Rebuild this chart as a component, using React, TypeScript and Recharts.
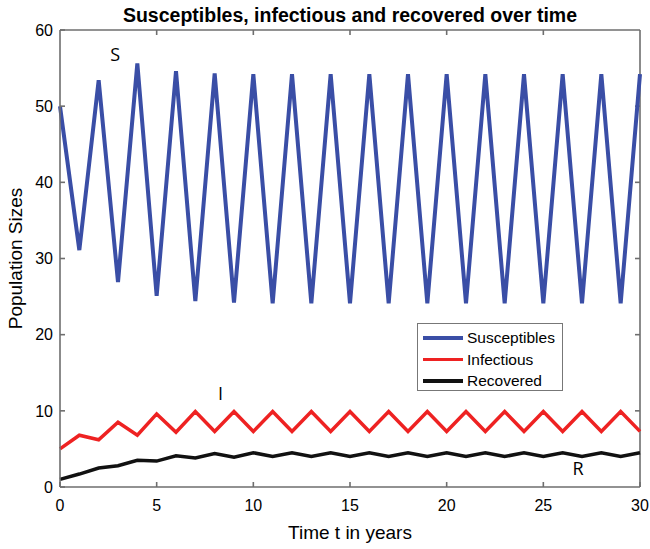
import React from 'react';
import { LineChart, Line, XAxis, YAxis, ReferenceDot, ReferenceLine } from 'recharts';

const years = Array.from({ length: 31 }, (_, i) => i);
const susceptibles = [50, 31.1, 53.4, 26.9, 55.6, 25.1, 54.6, 24.4, 54.3, 24.2, 54.2, 24.1, 54.2, 24.1, 54.2, 24.1, 54.2, 24.1, 54.2, 24.1, 54.2, 24.1, 54.2, 24.1, 54.2, 24.1, 54.2, 24.1, 54.2, 24.1, 54.2];
const infectious = [5.0, 6.8, 6.2, 8.5, 6.8, 9.6, 7.2, 9.9, 7.3, 9.9, 7.3, 9.9, 7.3, 9.9, 7.3, 9.9, 7.3, 9.9, 7.3, 9.9, 7.3, 9.9, 7.3, 9.9, 7.3, 9.9, 7.3, 9.9, 7.3, 9.9, 7.3];
const recovered = [1.0, 1.7, 2.5, 2.8, 3.5, 3.4, 4.1, 3.8, 4.4, 3.9, 4.5, 4.0, 4.5, 4.0, 4.5, 4.0, 4.5, 4.0, 4.5, 4.0, 4.5, 4.0, 4.5, 4.0, 4.5, 4.0, 4.5, 4.0, 4.5, 4.0, 4.5];
const xTicks = [0, 5, 10, 15, 20, 25, 30];
const yTicks = [0, 10, 20, 30, 40, 50, 60];
const seriesNames = ['Susceptibles', 'Infectious', 'Recovered'];
const seriesColors = ['#3a4ea6', '#ee2222', '#111111'];
const annotations = [
  { label: 'S', x: 2.85, y: 56.8 },
  { label: 'I', x: 8.3, y: 12.3 },
  { label: 'R', x: 26.8, y: 2.35 },
];

const X_MIN = xTicks[0];
const X_MAX = xTicks[xTicks.length - 1];
const Y_MIN = yTicks[0];
const Y_MAX = yTicks[yTicks.length - 1];
// inward tick length expressed as a fraction of each axis span
const TICK_FRAC_X = 5 / 580;
const TICK_FRAC_Y = 5 / 457;

const data = years.map((t, i) => ({
  t,
  S: susceptibles[i],
  I: infectious[i],
  R: recovered[i],
}));

const FONT = 'Liberation Sans, Arial, sans-serif';
const AXIS = '#6e6e6e';
const AXW = 1.6;

const LegendBox = () => (
  <div
    style={{
      position: 'absolute',
      left: 417,
      top: 323,
      width: 146,
      height: 68,
      border: '1.5px solid #777',
      background: '#fff',
      padding: '3px 0 0 5px',
      fontFamily: FONT,
      fontSize: 15.5,
      color: '#000',
      lineHeight: '21.5px',
      boxSizing: 'border-box',
    }}
  >
    {seriesNames.map((n, i) => (
      <div key={n} style={{ display: 'flex', alignItems: 'center' }}>
        <div style={{ width: 40, height: 3.5, background: seriesColors[i], marginRight: 4 }} />
        <span>{n}</span>
      </div>
    ))}
  </div>
);

export default function App() {
  const dy = (Y_MAX - Y_MIN) * TICK_FRAC_Y;
  const dx = (X_MAX - X_MIN) * TICK_FRAC_X;
  return (
    <div style={{ position: 'absolute', left: 0, top: 0, width: 650, height: 549, background: '#fff' }}>
      <div
        style={{
          position: 'absolute',
          top: 0,
          left: 60,
          width: 580,
          textAlign: 'center',
          fontFamily: FONT,
          fontWeight: 'bold',
          fontSize: 19.5,
          lineHeight: '30px',
          color: '#000',
        }}
      >
        Susceptibles, infectious and recovered over time
      </div>
      <LineChart width={650} height={549} data={data} margin={{ top: 30, right: 10, bottom: 0, left: 0 }}>
        <XAxis
          dataKey="t"
          type="number"
          domain={[X_MIN, X_MAX]}
          ticks={xTicks}
          height={62}
          tickSize={-5}
          tickMargin={18}
          axisLine={{ stroke: AXIS, strokeWidth: AXW }}
          tickLine={{ stroke: AXIS, strokeWidth: AXW }}
          tick={{ fill: '#000', fontSize: 16, fontFamily: FONT }}
          label={{ value: 'Time t in years', position: 'insideBottom', offset: 10, fill: '#000', fontSize: 19, fontFamily: FONT }}
        />
        <YAxis
          type="number"
          domain={[Y_MIN, Y_MAX]}
          ticks={yTicks}
          width={60}
          tickSize={-5}
          tickMargin={12}
          axisLine={{ stroke: AXIS, strokeWidth: AXW }}
          tickLine={{ stroke: AXIS, strokeWidth: AXW }}
          tick={{ fill: '#000', fontSize: 16, fontFamily: FONT }}
          label={{ value: 'Population Sizes', angle: -90, position: 'insideLeft', offset: 15, style: { textAnchor: 'middle' }, fill: '#000', fontSize: 19, fontFamily: FONT }}
        />
        <ReferenceLine y={Y_MAX} stroke={AXIS} strokeWidth={AXW} />
        <ReferenceLine x={X_MAX} stroke={AXIS} strokeWidth={AXW} />
        {xTicks.slice(1, -1).map((t) => (
          <ReferenceLine key={'tx' + t} segment={[{ x: t, y: Y_MAX }, { x: t, y: Y_MAX - dy }]} stroke={AXIS} strokeWidth={AXW} />
        ))}
        {yTicks.slice(1, -1).map((v) => (
          <ReferenceLine key={'ty' + v} segment={[{ x: X_MAX, y: v }, { x: X_MAX - dx, y: v }]} stroke={AXIS} strokeWidth={AXW} />
        ))}
        <Line dataKey="S" stroke={seriesColors[0]} strokeWidth={4} dot={false} isAnimationActive={false} strokeLinejoin="miter" />
        <Line dataKey="I" stroke={seriesColors[1]} strokeWidth={3.5} dot={false} isAnimationActive={false} strokeLinejoin="miter" />
        <Line dataKey="R" stroke={seriesColors[2]} strokeWidth={3.5} dot={false} isAnimationActive={false} />
        {annotations.map((a) => (
          <ReferenceDot
            key={a.label}
            x={a.x}
            y={a.y}
            r={0}
            fill="none"
            stroke="none"
            label={{ value: a.label, position: 'center', fill: '#000', fontSize: 18, fontFamily: 'Open Sans, sans-serif' }}
          />
        ))}
      </LineChart>
      <LegendBox />
    </div>
  );
}
